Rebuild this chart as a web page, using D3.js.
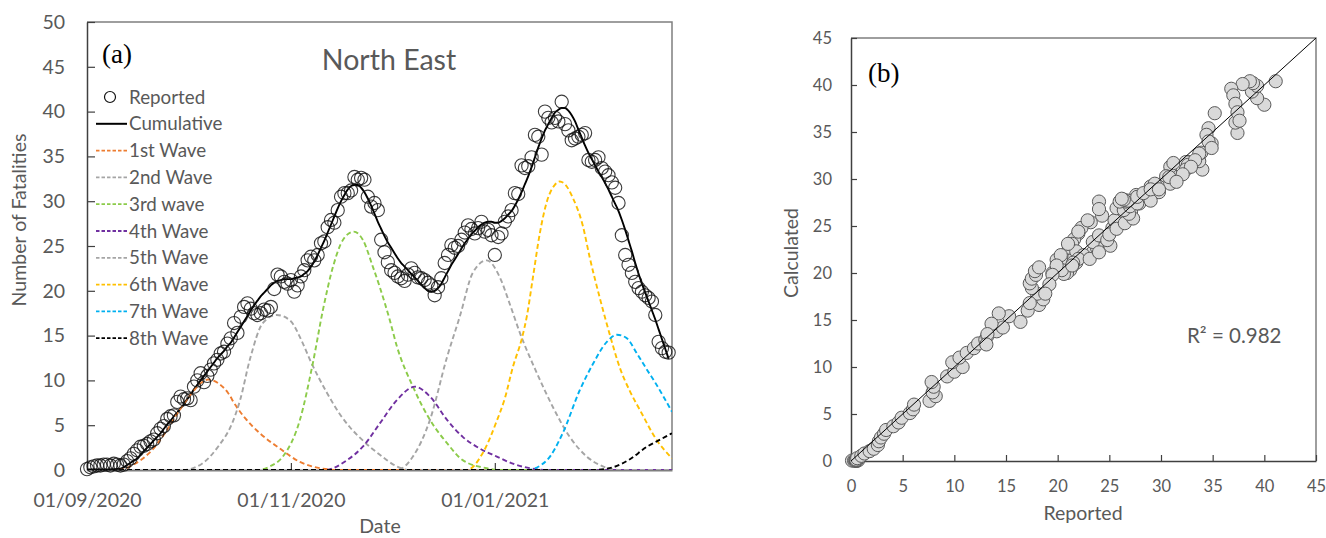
<!DOCTYPE html>
<html><head><meta charset="utf-8">
<script src="https://cdn.jsdelivr.net/npm/d3@7"></script>
<style>body{margin:0;background:#fff;} svg{display:block;}</style>
</head><body>
<svg id="c" width="1326" height="538"></svg>
<script>
// ---------------- DATA ----------------
const startDate = "2020-09-01";
const endDate = "2021-02-23";
const dateTicks = ["01/09/2020", "01/11/2020", "01/01/2021"];
const yTicksA = [0, 5, 10, 15, 20, 25, 30, 35, 40, 45, 50];
const ticksB = [0, 5, 10, 15, 20, 25, 30, 35, 40, 45];

// daily reported fatalities (one value per day from 01/09/2020)
const reported = [
  0.1,0.3,0.4,0.5,0.5,0.6,0.6,0.5,0.7,0.6,
  0.5,0.6,1.0,1.3,1.8,2.2,2.6,2.7,2.9,3.2,
  3.4,4.1,4.6,4.9,5.7,6.0,6.1,7.6,8.2,7.9,
  8.0,7.8,9.3,10.0,10.8,9.8,10.5,11.2,11.9,12.3,
  13.0,13.2,14.1,14.7,16.4,15.3,17.1,18.2,18.6,18.0,
  17.5,17.3,17.5,17.9,17.8,18.2,20.2,21.8,21.6,21.0,
  20.8,21.2,19.9,20.6,21.6,22.3,23.4,23.8,23.4,24.0,
  25.3,25.5,27.1,27.9,27.6,29.0,30.5,30.9,30.9,31.2,
  32.7,32.4,32.6,32.4,30.5,29.4,29.8,29.0,25.7,24.3,
  23.2,22.3,22.0,21.6,21.4,21.1,21.8,22.5,22.0,21.5,
  21.4,21.2,20.9,20.6,19.5,20.4,21.4,23.1,24.0,25.1,
  24.8,25.0,25.7,26.5,27.3,26.9,26.4,27.0,27.7,26.6,
  26.8,26.2,24.0,26.0,26.4,27.7,28.3,29.0,30.9,30.8,
  34.0,33.7,33.9,34.9,37.4,37.2,35.2,40.0,39.3,38.8,
  39.3,38.9,41.1,38.6,37.9,36.8,37.0,37.2,37.4,37.6,
  34.6,34.4,34.6,34.9,33.7,33.3,32.9,32.1,31.5,29.8,
  26.2,24.0,22.9,22.0,21.0,20.3,19.9,19.5,19.2,18.8,
  17.3,14.3,13.6,13.2,13.1
];
// model (cumulative of all waves) for the same days
const calculated = [
  0.05,0.05,0.05,0.05,0.05,0.05,0.05,0.06,0.08,0.12,
  0.15,0.3,0.55,0.8,1.05,1.3,1.7,2.1,2.5,2.9,
  3.3,3.7,4.1,4.6,5.1,5.5,6.0,6.4,6.9,7.3,
  7.9,8.4,9.0,9.5,10.0,10.5,11.0,11.5,12.0,12.5,
  12.9,13.3,13.8,14.2,14.8,15.4,16.0,16.6,17.2,17.8,
  18.4,18.9,19.4,19.8,20.2,20.6,20.9,21.1,21.2,21.3,
  21.3,21.3,21.4,21.5,21.6,21.9,22.2,22.7,23.3,24.0,
  24.8,25.6,26.5,27.4,28.3,29.2,30.0,30.7,31.3,31.7,
  31.8,31.8,31.5,31.0,30.3,29.5,28.6,27.7,26.9,26.1,
  25.4,24.8,24.2,23.6,23.1,22.7,22.3,21.9,21.5,21.1,
  20.7,20.3,20.0,19.9,20.0,20.3,20.8,21.5,22.2,22.9,
  23.5,24.1,24.7,25.3,25.8,26.3,26.7,27.1,27.4,27.6,
  27.7,27.7,27.6,27.6,27.8,28.1,28.5,28.9,29.5,30.2,
  31.0,31.9,32.8,33.8,34.9,36.0,37.0,37.9,38.6,39.3,
  39.9,40.2,40.4,40.4,40.1,39.6,38.9,38.0,37.1,36.2,
  35.4,34.7,34.0,33.3,32.7,32.0,31.3,30.5,29.7,28.9,
  27.9,26.8,25.6,24.4,23.1,21.9,20.8,19.8,18.8,17.8,
  16.8,15.7,14.6,13.5,12.4
];
// waves: [day offset from 01/09/2020, value]
const wave1 = [[0,0],[9.3,0],[14.4,0.7],[19.4,2.2],[23.3,4.1],[27.2,6.4],[31.4,8.6],[34.4,9.8],[36.2,10.1],[39.2,9.7],[42.2,8.6],[44.3,7.3],[47.5,5.7],[51.7,4.1],[57.7,2.4],[63.7,0.9],[69.7,0.2],[75.7,0],[175,0]];
const wave2 = [[0,0],[28.7,0],[34.4,0.7],[39.2,2.6],[43.4,5.2],[45.8,7.8],[48.7,12.3],[52.6,16.4],[56.8,17.3],[60.7,16.7],[64.6,14.1],[66.7,12.3],[71.8,8.6],[75.7,6.2],[78.6,4.8],[82.5,3.3],[87.6,1.7],[92.7,0.4],[96.6,0],[175,0]];
const wave3 = [[0,0],[51.1,0],[54.7,0.4],[58.6,1.5],[63.7,5.6],[67.6,12.0],[70.6,17.9],[73.6,22.7],[76.6,25.7],[79.8,26.6],[82.5,25.7],[85.5,22.7],[87.6,20.4],[90.6,16.7],[92.7,13.8],[97.5,9.3],[102.6,5.6],[107.7,3.0],[112.4,1.1],[119.6,0.2],[123.5,0],[175,0]];
const wave4 = [[0,0],[71.2,0],[77.8,1.1],[82.5,2.6],[87.6,5.2],[92.7,7.8],[98.1,9.3],[102.6,8.2],[107.7,5.6],[112.4,3.7],[117.5,2.4],[122.6,1.5],[127.4,0.7],[132.5,0.2],[137.6,0],[175,0]];
const wave5 = [[0,0],[92.7,0],[97.5,1.5],[102.6,5.6],[107.7,12.6],[111.5,17.1],[115.4,22.0],[119.6,23.4],[123.5,21.5],[126.5,18.5],[129.5,15.3],[134.6,10.8],[139.4,7.0],[144.4,3.7],[149.5,1.5],[154.3,0.4],[159.4,0],[175,0]];
const wave6 = [[0,0],[113.6,0],[118.4,1.9],[122.6,5.5],[125,8.0],[127.4,11.5],[130.1,14.7],[131.6,17.2],[133.4,21.5],[135.5,26.5],[137.6,30.0],[139.9,31.8],[141.4,32.2],[143.2,31.8],[145.3,30.4],[148.3,27.3],[150.4,23.7],[153.4,19.2],[156.4,15.1],[159.4,11.4],[162.4,8.8],[165.4,6.7],[170.5,3.3],[175,1.3]];
const wave7 = [[0,0],[131.6,0],[137.6,1.1],[142.3,4.1],[147.4,8.9],[151.3,11.8],[155.5,14.3],[158.5,15.1],[161.5,14.7],[164.5,13.0],[167.5,11.2],[169.9,9.8],[175,6.5]];
const wave8 = [[0,0],[151.3,0],[157.3,0.3],[162.4,1.2],[167.5,2.6],[171,3.3],[175,4.1]];
const waveLabels = ["1st Wave","2nd Wave","3rd wave","4th Wave","5th Wave","6th Wave","7th Wave","8th Wave"];
const waveColors = ["#ED7D31","#A5A5A5","#8CCB4A","#7030A0","#A5A5A5","#FFC000","#00B0F0","#000000"];
const topLegend = ["Reported","Cumulative"];
const titleA = "North East";
const r2Text = "R² = 0.982";

// ---------------- DRAW ----------------
const svg = d3.select("#c");
const FONT = "Lato, 'Open Sans', sans-serif";
const TXT = "#595959";
const parseISO = d3.utcParse("%Y-%m-%d");
const parseDMY = d3.utcParse("%d/%m/%Y");
const t0 = parseISO(startDate);
const dayDate = d => new Date(t0.getTime() + d * 86400000);

// ===== Panel (a) =====
const A = {l: 87, r: 672, t: 22, b: 470};
const xA = d3.scaleUtc().domain([t0, parseISO(endDate)]).range([A.l, A.r]);
const yA = d3.scaleLinear().domain([0, 50]).range([A.b, A.t]);

svg.append("defs").append("clipPath").attr("id","clipA")
  .append("rect").attr("x",A.l).attr("y",A.t).attr("width",A.r-A.l).attr("height",A.b-A.t);

svg.append("path").attr("d",`M${A.l},${A.t}H${A.r}V${A.b}`)
  .attr("fill","none").attr("stroke","#7f7f7f").attr("stroke-width",1.5);

const gyA = svg.append("g").attr("transform",`translate(${A.l},0)`)
  .call(d3.axisLeft(yA).tickValues(yTicksA).tickSizeInner(-8).tickSizeOuter(0).tickPadding(22));
gyA.select(".domain").attr("stroke","#404040").attr("stroke-width",1.5);
gyA.selectAll(".tick line").attr("stroke","#404040").attr("stroke-width",1.2);
gyA.selectAll("text").attr("font-family",FONT).attr("font-size",19.5).attr("fill",TXT);

const gxA = svg.append("g").attr("transform",`translate(0,${A.b})`)
  .call(d3.axisBottom(xA).tickValues(dateTicks.map(parseDMY)).tickFormat(d3.utcFormat("%d/%m/%Y"))
    .tickSizeInner(-7).tickSizeOuter(0).tickPadding(23));
gxA.select(".domain").attr("stroke","#7f7f7f").attr("stroke-width",2.2);
gxA.selectAll(".tick line").attr("stroke","#404040").attr("stroke-width",1.2);
gxA.selectAll("text").attr("font-family",FONT).attr("font-size",19.5).attr("fill",TXT);

const plotA = svg.append("g").attr("clip-path","url(#clipA)");

svg.append("g").selectAll("circle").data(reported).join("circle")
  .attr("cx",(v,i)=>xA(dayDate(i))).attr("cy",v=>yA(v)).attr("r",6.6)
  .attr("fill","none").attr("stroke","#111").attr("stroke-opacity",0.82).attr("stroke-width",1.1);

plotA.append("path").datum(calculated)
  .attr("d", d3.line().x((v,i)=>xA(dayDate(i))).y(v=>yA(v)).curve(d3.curveMonotoneX))
  .attr("fill","none").attr("stroke","#000").attr("stroke-width",1.9);

const waves = [wave1,wave2,wave3,wave4,wave5,wave6,wave7,wave8];
const waveLine = d3.line().x(p=>xA(dayDate(p[0]))).y(p=>yA(p[1])).curve(d3.curveMonotoneX);
waves.forEach((w,i)=>{
  plotA.append("path").datum(w).attr("d",waveLine)
    .attr("fill","none").attr("stroke",waveColors[i]).attr("stroke-width",1.9)
    .attr("stroke-dasharray","5,3");
});

const legY0 = 97, legDy = 26.8;
const lg = svg.append("g").attr("font-family",FONT).attr("font-size",18.8).attr("fill",TXT);
lg.append("circle").attr("cx",110).attr("cy",legY0).attr("r",5.5)
  .attr("fill","none").attr("stroke","#111").attr("stroke-width",1.2);
lg.append("line").attr("x1",96).attr("x2",127).attr("y1",legY0+legDy).attr("y2",legY0+legDy)
  .attr("stroke","#000").attr("stroke-width",2);
topLegend.forEach((t,i)=>lg.append("text").attr("x",129).attr("y",legY0+i*legDy).attr("dy","0.35em").text(t));
waveLabels.forEach((t,i)=>{
  const yy = legY0 + (i+2)*legDy;
  lg.append("line").attr("x1",96).attr("x2",127).attr("y1",yy).attr("y2",yy)
    .attr("stroke",waveColors[i]).attr("stroke-width",1.8).attr("stroke-dasharray","3.5,2");
  lg.append("text").attr("x",129).attr("y",yy).attr("dy","0.35em").text(t);
});

svg.append("text").attr("x",389).attr("y",70).attr("text-anchor","middle")
  .attr("font-family",FONT).attr("font-size",28.5).attr("fill",TXT).text(titleA);
svg.append("text").attr("x",102).attr("y",63)
  .attr("font-family","'Liberation Serif', 'DejaVu Serif', serif").attr("font-size",27).attr("fill","#000").text("(a)");
svg.append("text").attr("x",380).attr("y",533).attr("text-anchor","middle")
  .attr("font-family",FONT).attr("font-size",19.5).attr("fill",TXT).text("Date");
svg.append("text").attr("transform","translate(26,220) rotate(-90)").attr("text-anchor","middle")
  .attr("font-family",FONT).attr("font-size",19.5).attr("fill",TXT).text("Number of Fatalities");

// ===== Panel (b) =====
const B = {l: 851, r: 1316, t: 38, b: 461};
const xB = d3.scaleLinear().domain([0,45]).range([B.l,B.r]);
const yB = d3.scaleLinear().domain([0,45]).range([B.b,B.t]);

svg.append("path").attr("d",`M${B.l},${B.t}H${B.r}V${B.b}`)
  .attr("fill","none").attr("stroke","#7f7f7f").attr("stroke-width",1.5);

const gyB = svg.append("g").attr("transform",`translate(${B.l},0)`)
  .call(d3.axisLeft(yB).tickValues(ticksB).tickSizeInner(-6).tickSizeOuter(0).tickPadding(19));
gyB.select(".domain").attr("stroke","#404040").attr("stroke-width",1.5);
gyB.selectAll(".tick line").attr("stroke","#404040").attr("stroke-width",1.2);
gyB.selectAll("text").attr("font-family",FONT).attr("font-size",16.5).attr("fill",TXT);

const gxB = svg.append("g").attr("transform",`translate(0,${B.b})`)
  .call(d3.axisBottom(xB).tickValues(ticksB).tickSizeInner(-6).tickSizeOuter(0).tickPadding(19));
gxB.select(".domain").attr("stroke","#404040").attr("stroke-width",1.5);
gxB.selectAll(".tick line").attr("stroke","#404040").attr("stroke-width",1.2);
gxB.selectAll("text").attr("font-family",FONT).attr("font-size",16.5).attr("fill",TXT);

svg.append("g").selectAll("circle").data(reported).join("circle")
  .attr("cx",v=>xB(v)).attr("cy",(v,i)=>yB(calculated[i])).attr("r",6.6)
  .attr("fill","#D9D9D9").attr("stroke","#595959").attr("stroke-width",1);

svg.append("line").attr("x1",xB(0)).attr("y1",yB(0)).attr("x2",xB(45)).attr("y2",yB(45))
  .attr("stroke","#000").attr("stroke-width",1);

svg.append("text").attr("x",1187).attr("y",343)
  .attr("font-family",FONT).attr("font-size",20.5).attr("fill",TXT).text(r2Text);
svg.append("text").attr("x",868).attr("y",82)
  .attr("font-family","'Liberation Serif', 'DejaVu Serif', serif").attr("font-size",27).attr("fill","#000").text("(b)");
svg.append("text").attr("x",1083).attr("y",520).attr("text-anchor","middle")
  .attr("font-family",FONT).attr("font-size",19.5).attr("fill",TXT).text("Reported");
svg.append("text").attr("transform","translate(798,253) rotate(-90)").attr("text-anchor","middle")
  .attr("font-family",FONT).attr("font-size",19.5).attr("fill",TXT).text("Calculated");
</script>
</body></html>
